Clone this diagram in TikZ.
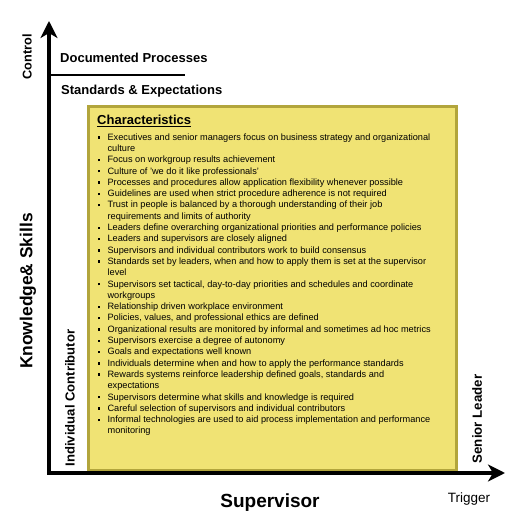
\documentclass[tikz,border=0pt]{standalone}
\usepackage{fontspec}
\setmainfont{Liberation Sans}
\usetikzlibrary{arrows.meta}
\definecolor{Olive} {HTML}{B2A53C}
\definecolor{Canary}{HTML}{F0E374}
\newcommand{\sqb}{\raisebox{1.6pt}{\rule{2.4pt}{2.4pt}}}
\tikzset{
  axisarr/.style={
    line width=3.5pt,
    -{Stealth[length=17pt,width=17pt,inset=5pt]},
  },
  hdr/.style args={#1}{
    font=\fontsize{#1}{#1}\selectfont\bfseries,
    anchor=base west, inner sep=0pt,
  },
  sidelbl/.style args={#1}{
    font=\fontsize{#1}{#1}\selectfont\bfseries,
    rotate=90, inner sep=0pt,
  },
  charbox/.style={
    rectangle, draw=Olive, fill=Canary, line width=2.5pt,
    inner sep=0pt, anchor=south west,
  },
}

\begin{document}
\begin{tikzpicture}[x=1pt,y=1pt]
  \useasboundingbox (0,0) rectangle (525,525);
  % quadrant box
  \node[charbox, minimum width=368pt, minimum height=364pt] (box) at (87,53) {};
  % axes
  \coordinate (origin) at (49,52);
  \coordinate (ytip)   at (49,504);
  \coordinate (xtip)   at (505,52);
  \draw[axisarr, line cap=rect] (origin) -- (ytip);
  \draw[axisarr, line cap=rect] (origin) -- (xtip);
  \coordinate (divL) at (49,450);
  \coordinate (divR) at (185,450);
  \draw[line width=2pt] (divL) -- (divR);
  \node[hdr=13] (docproc) at (60,462.5) {Documented Processes};
  \node[hdr=13] (stdexp)  at (61,430.5) {Standards \& Expectations};
  \node[sidelbl=12.7] (control) at (27,468)  {Control};
  \node[sidelbl=17.4] (knowl)   at (28,234)  {Knowledge\& Skills};
  \node[sidelbl=13.1] (indiv)   at (70,127)  {Individual Contributor};
  \node[sidelbl=13.3] (senior)  at (477,106) {Senior Leader};
  \node[font=\fontsize{19}{19}\selectfont\bfseries, inner sep=0pt] (superv) at (270,22) {Supervisor};
  \node[font=\fontsize{13.5}{13.5}\selectfont, inner sep=0pt] (trigger) at (469,26) {Trigger};
  % characteristics list
  \node[hdr=13] (chartitle) at (97,400.5) {\underline{Characteristics}};
  \node[anchor=north west, inner sep=0pt, font=\fontsize{9.2}{11.3}\selectfont] (items) at (97.5,393) {%
    \begin{tabular}{@{}l@{\hspace{7.5pt}}l@{}}
    \sqb & Executives and senior managers focus on business strategy and organizational\\
         & culture\\
    \sqb & Focus on workgroup results achievement\\
    \sqb & Culture of 'we do it like professionals'\\
    \sqb & Processes and procedures allow application flexibility whenever possible\\
    \sqb & Guidelines are used when strict procedure adherence is not required\\
    \sqb & Trust in people is balanced by a thorough understanding of their job\\
         & requirements and limits of authority\\
    \sqb & Leaders define overarching organizational priorities and performance policies\\
    \sqb & Leaders and supervisors are closely aligned\\
    \sqb & Supervisors and individual contributors work to build consensus\\
    \sqb & Standards set by leaders, when and how to apply them is set at the supervisor\\
         & level\\
    \sqb & Supervisors set tactical, day-to-day priorities and schedules and coordinate\\
         & workgroups\\
    \sqb & Relationship driven workplace environment\\
    \sqb & Policies, values, and professional ethics are defined\\
    \sqb & Organizational results are monitored by informal and sometimes ad hoc metrics\\
    \sqb & Supervisors exercise a degree of autonomy\\
    \sqb & Goals and expectations well known\\
    \sqb & Individuals determine when and how to apply the performance standards\\
    \sqb & Rewards systems reinforce leadership defined goals, standards and\\
         & expectations\\
    \sqb & Supervisors determine what skills and knowledge is required\\
    \sqb & Careful selection of supervisors and individual contributors\\
    \sqb & Informal technologies are used to aid process implementation and performance\\
         & monitoring
    \end{tabular}};
\end{tikzpicture}
\end{document}
